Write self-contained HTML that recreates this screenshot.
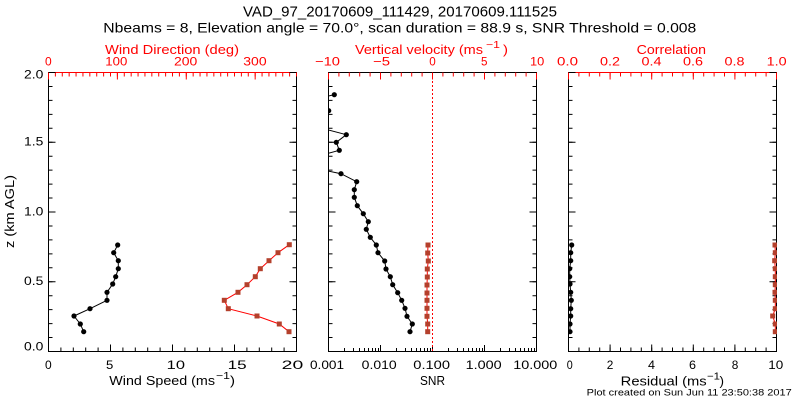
<!DOCTYPE html>
<html><head><meta charset="utf-8"><style>
html,body{margin:0;padding:0;background:#fff;}
svg{display:block;}
text{font-family:"Liberation Sans",sans-serif;}
</style></head><body>
<svg width="800" height="400" viewBox="0 0 800 400" xmlns="http://www.w3.org/2000/svg">
<defs>
<clipPath id="cL"><rect x="48" y="72" width="249" height="280"/></clipPath>
<clipPath id="cM"><rect x="328" y="72" width="209" height="280"/></clipPath>
<clipPath id="cR"><rect x="568" y="72" width="209" height="280"/></clipPath>
<marker id="mb" markerWidth="6" markerHeight="6" refX="3" refY="3" markerUnits="userSpaceOnUse" overflow="visible"><circle cx="3" cy="3" r="2.6" fill="#000"/></marker>
<marker id="mr" markerWidth="6" markerHeight="6" refX="3" refY="3" markerUnits="userSpaceOnUse" overflow="visible"><rect x="0.5" y="0.5" width="5" height="5" fill="#b4402c"/></marker>
</defs>
<rect width="800" height="400" fill="#fff"/>

<!-- Titles -->
<text x="243" y="16.7" font-size="15" textLength="314" lengthAdjust="spacingAndGlyphs">VAD_97_20170609_111429, 20170609.111525</text>
<text x="103.3" y="32.3" font-size="14" textLength="593" lengthAdjust="spacingAndGlyphs">Nbeams = 8, Elevation angle = 70.0°, scan duration = 88.9 s, SNR Threshold = 0.008</text>

<!-- ===== Axes boxes ===== -->
<g stroke="#000" stroke-width="1" fill="none" shape-rendering="crispEdges">
<path d="M48.5 72V351.5H296.5V72"/>
<rect x="328.5" y="72.5" width="208" height="279"/>
<path d="M568.5 72V351.5H776.5V72"/>
</g>
<g stroke="#ff0000" stroke-width="1" fill="none" shape-rendering="crispEdges">
<path d="M48 72.5H297"/>
<path d="M568 72.5H777"/>
</g>

<!-- ===== Ticks: left panel ===== -->
<g fill="none">
<line x1="48" y1="349.5" x2="297" y2="349.5" stroke="#000" stroke-width="4" stroke-dasharray="1 11.4"/>
<line x1="48" y1="348" x2="297" y2="348" stroke="#000" stroke-width="7" stroke-dasharray="1 61"/>
<line x1="48" y1="74.5" x2="297" y2="74.5" stroke="#ff0000" stroke-width="4" stroke-dasharray="1 5.889"/>
<line x1="48" y1="76" x2="297" y2="76" stroke="#ff0000" stroke-width="7" stroke-dasharray="1 67.889"/>
<line x1="50.5" y1="352" x2="50.5" y2="72" stroke="#000" stroke-width="4" stroke-dasharray="1 12.95"/>
<line x1="52" y1="352" x2="52" y2="72" stroke="#000" stroke-width="7" stroke-dasharray="1 68.75"/>
<line x1="294.5" y1="352" x2="294.5" y2="72" stroke="#000" stroke-width="4" stroke-dasharray="1 12.95"/>
<line x1="293" y1="352" x2="293" y2="72" stroke="#000" stroke-width="7" stroke-dasharray="1 68.75"/>
</g>

<!-- ===== Ticks: middle panel ===== -->
<g fill="none">
<line x1="328" y1="74.5" x2="537" y2="74.5" stroke="#ff0000" stroke-width="4" stroke-dasharray="1 9.4"/>
<line x1="328" y1="76" x2="537" y2="76" stroke="#ff0000" stroke-width="7" stroke-dasharray="1 51"/>
<line x1="330.5" y1="352" x2="330.5" y2="72" stroke="#000" stroke-width="4" stroke-dasharray="1 12.95"/>
<line x1="332" y1="352" x2="332" y2="72" stroke="#000" stroke-width="7" stroke-dasharray="1 68.75"/>
<line x1="534.5" y1="352" x2="534.5" y2="72" stroke="#000" stroke-width="4" stroke-dasharray="1 12.95"/>
<line x1="533" y1="352" x2="533" y2="72" stroke="#000" stroke-width="7" stroke-dasharray="1 68.75"/>
<path stroke="#000" stroke-width="1" shape-rendering="crispEdges" d="
M344.5 352V348M353.5 352V348M359.5 352V348M364.5 352V348M368.5 352V348M372.5 352V348M375.5 352V348M378.5 352V348
M396.5 352V348M405.5 352V348M411.5 352V348M416.5 352V348M420.5 352V348M424.5 352V348M427.5 352V348M430.5 352V348
M448.5 352V348M457.5 352V348M463.5 352V348M468.5 352V348M472.5 352V348M476.5 352V348M479.5 352V348M482.5 352V348
M500.5 352V348M509.5 352V348M515.5 352V348M520.5 352V348M524.5 352V348M528.5 352V348M531.5 352V348M534.5 352V348
M380.5 352V345M432.5 352V345M484.5 352V345"/>
<line x1="432.5" y1="73" x2="432.5" y2="351" stroke="#ff0000" stroke-width="1" stroke-dasharray="2 2"/>
</g>

<!-- ===== Ticks: right panel ===== -->
<g fill="none">
<line x1="568" y1="74.5" x2="777" y2="74.5" stroke="#ff0000" stroke-width="4" stroke-dasharray="1 9.4"/>
<line x1="568" y1="76" x2="777" y2="76" stroke="#ff0000" stroke-width="7" stroke-dasharray="1 40.6"/>
<line x1="568" y1="349.5" x2="777" y2="349.5" stroke="#000" stroke-width="4" stroke-dasharray="1 9.4"/>
<line x1="568" y1="348" x2="777" y2="348" stroke="#000" stroke-width="7" stroke-dasharray="1 40.6"/>
<line x1="570.5" y1="352" x2="570.5" y2="72" stroke="#000" stroke-width="4" stroke-dasharray="1 12.95"/>
<line x1="572" y1="352" x2="572" y2="72" stroke="#000" stroke-width="7" stroke-dasharray="1 68.75"/>
<line x1="774.5" y1="352" x2="774.5" y2="72" stroke="#000" stroke-width="4" stroke-dasharray="1 12.95"/>
<line x1="773" y1="352" x2="773" y2="72" stroke="#000" stroke-width="7" stroke-dasharray="1 68.75"/>
</g>

<!-- ===== Data ===== -->
<g clip-path="url(#cL)" fill="none" stroke-width="1">
<polyline stroke="#000" marker-start="url(#mb)" marker-mid="url(#mb)" marker-end="url(#mb)" points="117.7,245 113.7,252.7 118.3,260.7 118.3,268.7 115.7,276.7 112.7,284 107,292.3 107,300.3 90,308.7 74,316 80.3,324 83.7,331.7"/>
<polyline stroke="#ff0000" marker-start="url(#mr)" marker-mid="url(#mr)" marker-end="url(#mr)" points="289.3,244.7 278,252.7 269,260.7 260.3,268.7 255.3,276.7 247,284.7 238,292.3 224.3,300.3 228.3,308.7 257,316 279.3,324 289,331.7"/>
</g>
<g clip-path="url(#cM)" fill="none" stroke-width="1">
<polyline stroke="#000" marker-start="url(#mb)" marker-mid="url(#mb)" marker-end="url(#mb)" points="334.3,94.7 300,102.7 328.7,110.7 310,118.7 316,126.7 346.3,134.7 336.3,142.3 339.3,150.3 310,158.3 306,166.3 341,173.7 356.7,181.7 354.3,189.7 354.3,197.3 357.3,205.7 363.3,213.7 368.3,221.7 366.3,229.3 370.3,237.3 376.3,245 378,252.7 384.7,261 386,269 390.3,276.7 392.7,284.7 397.7,292.7 401.7,300.3 405,308.3 407,316.3 412.3,324 410,331.7"/>
<polyline stroke="#ff0000" marker-start="url(#mr)" marker-mid="url(#mr)" marker-end="url(#mr)" points="428,245 427.7,253 428.3,261 427.3,269 427.3,277 427,285 427,293 427,300.3 427,308.3 427,316.3 427.7,324 427.7,331.7"/>
</g>
<g clip-path="url(#cR)" fill="none" stroke-width="1">
<polyline stroke="#000" marker-start="url(#mb)" marker-mid="url(#mb)" marker-end="url(#mb)" points="571.7,245 570.7,252.7 570.7,260.7 569.7,268.7 569.7,276.7 570,284 570.7,292.3 571.3,300.3 570.7,308.7 570.7,316 570,324 570,331.7"/>
<polyline stroke="#ff0000" marker-start="url(#mr)" marker-mid="url(#mr)" marker-end="url(#mr)" points="775,245 775.3,252.7 774.7,260.7 775.3,268.7 775.3,276.7 775.3,284.7 775,292.3 775.3,300.3 775.3,308.7 772.7,316 775.3,324 775.3,331.7"/>
</g>

<!-- ===== Red top labels ===== -->
<g fill="#ff0000" font-size="13">
<text x="105" y="54" textLength="134" lengthAdjust="spacingAndGlyphs">Wind Direction (deg)</text>
<text x="355" y="54" textLength="128" lengthAdjust="spacingAndGlyphs">Vertical velocity (ms</text>
<text x="486" y="48" font-size="10" textLength="14" lengthAdjust="spacingAndGlyphs">−1</text>
<text x="503" y="54" textLength="5" lengthAdjust="spacingAndGlyphs">)</text>
<text x="636.7" y="54" textLength="69.3" lengthAdjust="spacingAndGlyphs">Correlation</text>
</g>
<g fill="#ff0000" font-size="12">
<text x="45" y="65.7" textLength="6.7" lengthAdjust="spacingAndGlyphs">0</text>
<text x="105.3" y="65.7" textLength="22" lengthAdjust="spacingAndGlyphs">100</text>
<text x="174" y="65.7" textLength="23.3" lengthAdjust="spacingAndGlyphs">200</text>
<text x="243.3" y="65.7" textLength="23.3" lengthAdjust="spacingAndGlyphs">300</text>
<text x="315" y="65.7" textLength="25" lengthAdjust="spacingAndGlyphs">−10</text>
<text x="373" y="65.7" textLength="17" lengthAdjust="spacingAndGlyphs">−5</text>
<text x="429.3" y="65.7" textLength="6.5" lengthAdjust="spacingAndGlyphs">0</text>
<text x="481" y="65.7" textLength="6.5" lengthAdjust="spacingAndGlyphs">5</text>
<text x="530" y="65.7" textLength="14.3" lengthAdjust="spacingAndGlyphs">10</text>
<text x="557" y="65.7" textLength="21" lengthAdjust="spacingAndGlyphs">0.0</text>
<text x="600" y="65.7" textLength="20" lengthAdjust="spacingAndGlyphs">0.2</text>
<text x="641.5" y="65.7" textLength="20" lengthAdjust="spacingAndGlyphs">0.4</text>
<text x="683" y="65.7" textLength="20" lengthAdjust="spacingAndGlyphs">0.6</text>
<text x="724.5" y="65.7" textLength="20" lengthAdjust="spacingAndGlyphs">0.8</text>
<text x="766.7" y="65.7" textLength="20" lengthAdjust="spacingAndGlyphs">1.0</text>
</g>

<!-- ===== Y tick labels ===== -->
<g fill="#000" font-size="12">
<text x="24" y="350.5" textLength="19.3" lengthAdjust="spacingAndGlyphs">0.0</text>
<text x="24" y="285" textLength="19.3" lengthAdjust="spacingAndGlyphs">0.5</text>
<text x="24" y="215.7" textLength="19.3" lengthAdjust="spacingAndGlyphs">1.0</text>
<text x="24" y="145.7" textLength="19.3" lengthAdjust="spacingAndGlyphs">1.5</text>
<text x="24" y="78.3" textLength="19.3" lengthAdjust="spacingAndGlyphs">2.0</text>
</g>
<text transform="translate(14,211.5) rotate(-90)" text-anchor="middle" font-size="13" textLength="73" lengthAdjust="spacingAndGlyphs">z (km AGL)</text>

<!-- ===== Bottom tick labels ===== -->
<g fill="#000" font-size="12">
<text x="45" y="369" textLength="6.7" lengthAdjust="spacingAndGlyphs">0</text>
<text x="106" y="369" textLength="7.3" lengthAdjust="spacingAndGlyphs">5</text>
<text x="166.7" y="369" textLength="18.3" lengthAdjust="spacingAndGlyphs">10</text>
<text x="227.7" y="369" textLength="19" lengthAdjust="spacingAndGlyphs">15</text>
<text x="281.7" y="369" textLength="21.6" lengthAdjust="spacingAndGlyphs">20</text>
<text x="310" y="369" textLength="34" lengthAdjust="spacingAndGlyphs">0.001</text>
<text x="361.7" y="369" textLength="35" lengthAdjust="spacingAndGlyphs">0.010</text>
<text x="413.3" y="369" textLength="36.7" lengthAdjust="spacingAndGlyphs">0.100</text>
<text x="465.7" y="369" textLength="36" lengthAdjust="spacingAndGlyphs">1.000</text>
<text x="513.3" y="369" textLength="44" lengthAdjust="spacingAndGlyphs">10.000</text>
<text x="566.7" y="369" textLength="6" lengthAdjust="spacingAndGlyphs">0</text>
<text x="606.7" y="369" textLength="6.6" lengthAdjust="spacingAndGlyphs">2</text>
<text x="648" y="369" textLength="7" lengthAdjust="spacingAndGlyphs">4</text>
<text x="689" y="369" textLength="7" lengthAdjust="spacingAndGlyphs">6</text>
<text x="731.7" y="369" textLength="6.6" lengthAdjust="spacingAndGlyphs">8</text>
<text x="768.3" y="369" textLength="15" lengthAdjust="spacingAndGlyphs">10</text>
</g>

<!-- ===== Bottom axis titles ===== -->
<g fill="#000" font-size="13">
<text x="109.3" y="385" textLength="105.7" lengthAdjust="spacingAndGlyphs">Wind Speed (ms</text>
<text x="216" y="379" font-size="10" textLength="14" lengthAdjust="spacingAndGlyphs">−1</text>
<text x="230" y="385" textLength="5" lengthAdjust="spacingAndGlyphs">)</text>
<text x="420" y="385" textLength="25" lengthAdjust="spacingAndGlyphs">SNR</text>
<text x="620.7" y="385.5" textLength="86" lengthAdjust="spacingAndGlyphs">Residual (ms</text>
<text x="707" y="379.5" font-size="10" textLength="13" lengthAdjust="spacingAndGlyphs">−1</text>
<text x="719.5" y="385.5" textLength="4.5" lengthAdjust="spacingAndGlyphs">)</text>
</g>
<text x="586.7" y="395.7" font-size="9.5" textLength="205" lengthAdjust="spacingAndGlyphs">Plot created on Sun Jun 11 23:50:38 2017</text>
</svg>
</body></html>
